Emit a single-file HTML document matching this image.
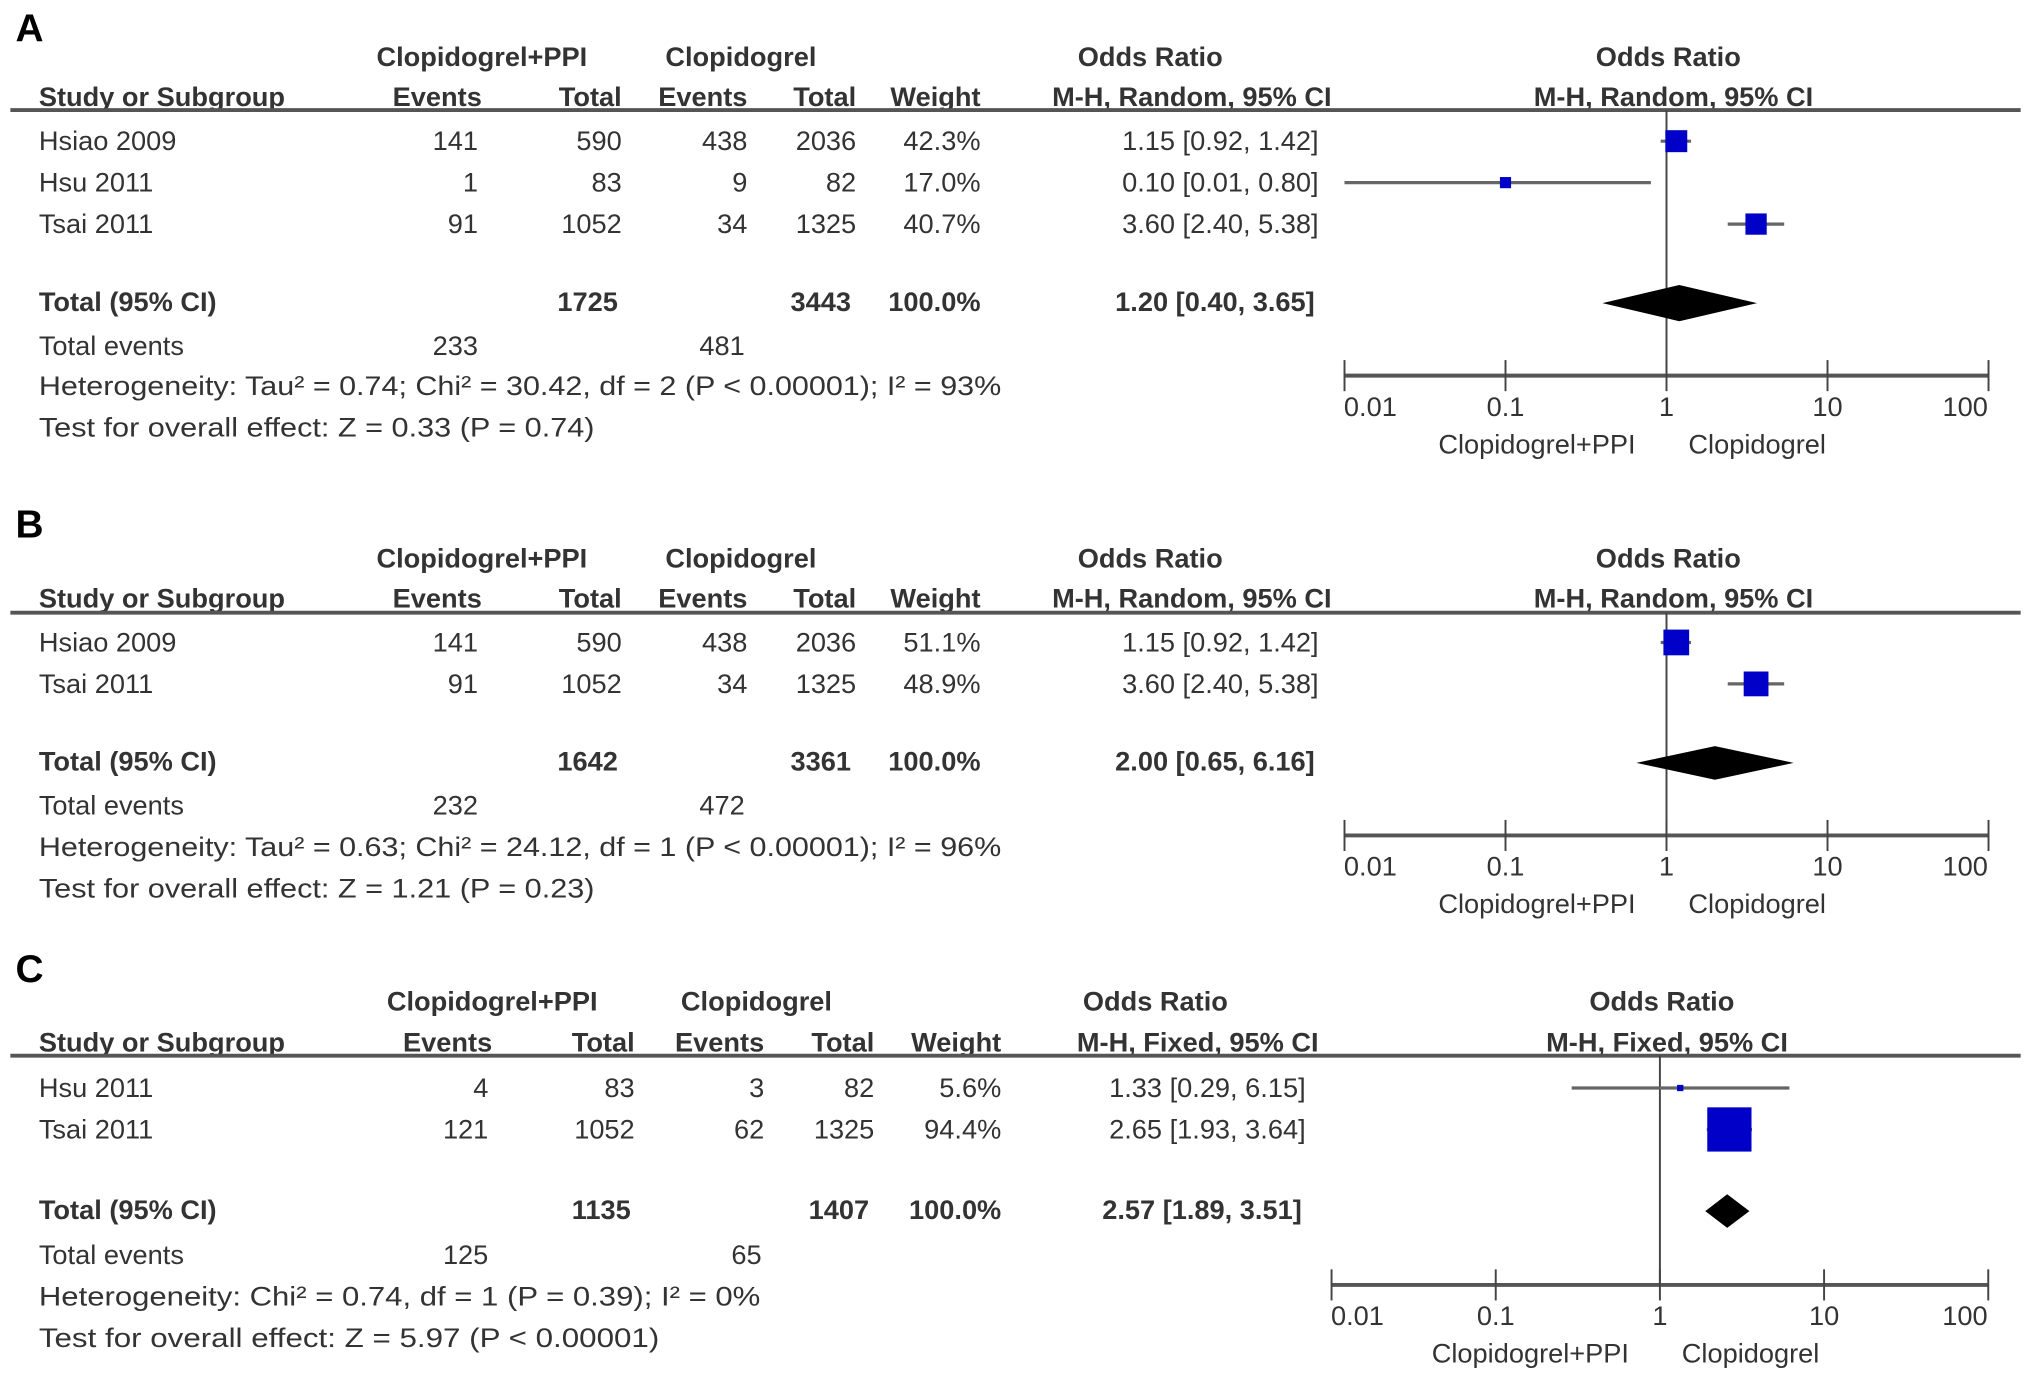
<!DOCTYPE html>
<html><head><meta charset="utf-8">
<style>
html,body{margin:0;padding:0;background:#fff;}
svg{display:block;}
text{font-family:"Liberation Sans",Arial,sans-serif;fill:#333;font-size:21px;}
.b{font-weight:bold;}
</style></head>
<body>
<svg id="fig" width="2031" height="1388" viewBox="0 0 1568 1071.6" preserveAspectRatio="none" xmlns="http://www.w3.org/2000/svg"></svg>
<script>
// ---- Panel A data ----
const aStudies = ["Hsiao 2009","Hsu 2011","Tsai 2011"];
const aExpEvents = ["141","1","91"];
const aExpTotal = ["590","83","1052"];
const aCtlEvents = ["438","9","34"];
const aCtlTotal = ["2036","82","1325"];
const aWeights = [42.3,17.0,40.7];
const aOR = [1.15,0.10,3.60];
const aLo = [0.92,0.01,2.40];
const aHi = [1.42,0.80,5.38];
const aTotal = {or:1.20,lo:0.40,hi:3.65};
// ---- Panel B data ----
const bStudies = ["Hsiao 2009","Tsai 2011"];
const bExpEvents = ["141","91"];
const bExpTotal = ["590","1052"];
const bCtlEvents = ["438","34"];
const bCtlTotal = ["2036","1325"];
const bWeights = [51.1,48.9];
const bOR = [1.15,3.60];
const bLo = [0.92,2.40];
const bHi = [1.42,5.38];
const bTotal = {or:2.00,lo:0.65,hi:6.16};
// ---- Panel C data ----
const cStudies = ["Hsu 2011","Tsai 2011"];
const cExpEvents = ["4","121"];
const cExpTotal = ["83","1052"];
const cCtlEvents = ["3","62"];
const cCtlTotal = ["82","1325"];
const cWeights = [5.6,94.4];
const cOR = [1.33,2.65];
const cLo = [0.29,1.93];
const cHi = [6.15,3.64];
const cTotal = {or:2.57,lo:1.89,hi:3.51};
const tickLabels = ["0.01","0.1","1","10","100"];
const tickValues = [0.01,0.1,1,10,100];

const NS="http://www.w3.org/2000/svg";
const svg=document.getElementById('fig');
function mk(tag,attrs,parent){const e=document.createElementNS(NS,tag);for(const k in attrs)e.setAttribute(k,attrs[k]);(parent||svg).appendChild(e);return e;}
function txt(s,x,y,anchor,cls,parent,tl){const e=mk('text',{x:x,y:y,'text-anchor':anchor||'start'},parent);if(cls)e.setAttribute('class',cls);if(tl){e.setAttribute('textLength',tl);e.setAttribute('lengthAdjust','spacingAndGlyphs');}e.textContent=s;return e;}
function fmt(v){return v.toFixed(2);}

function panel(p){
  const g=mk('g',{});
  
  
  const t=txt(p.letter,12,p.y0,'start','b',g);
  t.setAttribute('style','font-size:30px;fill:#000');
  const c=p.cols;
  // headers
  const h1=txt('Clopidogrel+PPI',c.grp1,p.h1,'middle','b',g);
  txt('Clopidogrel',c.grp2,p.h1,'middle','b',g);
  txt('Odds Ratio',c.orHead,p.h1,'middle','b',g);
  txt('Odds Ratio',c.plotHead,p.h1,'middle','b',g);
  const hdr=[['Study or Subgroup',30,'start'],['Events',c.e1,'end'],['Total',c.t1,'end'],['Events',c.e2,'end'],['Total',c.t2,'end'],['Weight',c.w,'end'],[p.method,c.ci,'end']];
  hdr.forEach(h=>txt(h[0],h[1],p.h2,h[2],'b',g));
  txt(p.method,c.plotHead+4,p.h2,'middle','b',g);
  const hl=mk('line',{x1:8,x2:1560,y1:p.hl,y2:p.hl,stroke:'#555','stroke-width':3},g);
  
  
  // axis function
  const x0=p.axX0, dec=p.dec;
  const X=v=>x0+(Math.log10(v)+2)*dec;
  // null line
  const nl=mk('line',{x1:X(1),x2:X(1),y1:p.hl,y2:p.axY,stroke:'#444','stroke-width':1.5},g);
  
  
  // rows
  p.studies.forEach((s,i)=>{
    const y=p.rows[i];
    const row=mk('g',{},g);
    
    
    txt(s,30,y,'start','',row);
    txt(p.ee[i],c.e1-3,y,'end','',row);
    txt(p.et[i],c.t1,y,'end','',row);
    txt(p.ce[i],c.e2,y,'end','',row);
    txt(p.ct[i],c.t2,y,'end','',row);
    txt(p.w[i].toFixed(1)+'%',c.w,y,'end','',row);
    txt(fmt(p.or[i])+' ['+fmt(p.lo[i])+', '+fmt(p.hi[i])+']',c.ci-10,y,'end','',row);
    const my=y-7;
    const ci=mk('line',{x1:X(p.lo[i]),x2:X(p.hi[i]),y1:my,y2:my,stroke:'#666','stroke-width':2.5},g);
    
    
    const sz=3+p.w[i]*0.33;
    const sq=mk('rect',{x:X(p.or[i])-sz/2,y:my-sz/2,width:sz,height:sz,fill:'#0000c8'},g);
    
    
  });
  // total
  const ty=p.totY;
  txt('Total (95% CI)',30,ty,'start','b',g);
  txt(p.sumT1,c.t1-3,ty,'end','b',g);
  txt(p.sumT2,c.t2-4,ty,'end','b',g);
  txt('100.0%',c.w,ty,'end','b',g);
  txt(fmt(p.tot.or)+' ['+fmt(p.tot.lo)+', '+fmt(p.tot.hi)+']',c.ci-13,ty,'end','b',g);
  const dy=ty-6, dh=p.dh;
  const d=mk('polygon',{points:[X(p.tot.lo)+','+dy, X(p.tot.or)+','+(dy-dh), X(p.tot.hi)+','+dy, X(p.tot.or)+','+(dy+dh)].join(' '),fill:'#000'},g);
  
  
  txt('Total events',30,p.evY,'start','',g);
  txt(p.ev1,c.e1-3,p.evY,'end','',g);
  txt(p.ev2,c.e2-2,p.evY,'end','',g);
  txt(p.het,30,p.hetY,'start','',g,p.hetW);
  txt(p.test,30,p.testY,'start','',g,p.testW);
  // axis
  const ax=mk('line',{x1:X(0.01),x2:X(100),y1:p.axY,y2:p.axY,stroke:'#555','stroke-width':3},g);
  
  
  tickValues.forEach((v,i)=>{
    const tk=mk('line',{x1:X(v),x2:X(v),y1:p.axY-12,y2:p.axY+12,stroke:'#444','stroke-width':1.5},g);
    
    
    const lb=txt(tickLabels[i],X(v)+(i===0?20:i===4?-18:0),p.axY+31,'middle','',g);
    
    
  });
  txt('Clopidogrel+PPI',X(1)-100,p.axY+60,'middle','',g);
  txt('Clopidogrel',X(1)+70,p.axY+60,'middle','',g);
}

panel({letter:'A',y0:32,h1:51,h2:82,hl:85,
  cols:{grp1:372,grp2:572,orHead:888,plotHead:1288,e1:372,t1:480,e2:577,t2:661,w:757,ci:1028},
  method:'M-H, Random, 95% CI',axX0:1038,dec:124.3,axY:290,
  studies:aStudies,ee:aExpEvents,et:aExpTotal,ce:aCtlEvents,ct:aCtlTotal,w:aWeights,or:aOR,lo:aLo,hi:aHi,tot:aTotal,
  rows:[116,148,180],totY:240,dh:14,sumT1:'1725',sumT2:'3443',evY:274,ev1:'233',ev2:'481',
  het:'Heterogeneity: Tau² = 0.74; Chi² = 30.42, df = 2 (P < 0.00001); I² = 93%',hetY:305,hetW:743,
  test:'Test for overall effect: Z = 0.33 (P = 0.74)',testY:337,testW:429});
panel({letter:'B',y0:415,h1:438,h2:469,hl:473,
  cols:{grp1:372,grp2:572,orHead:888,plotHead:1288,e1:372,t1:480,e2:577,t2:661,w:757,ci:1028},
  method:'M-H, Random, 95% CI',axX0:1038,dec:124.3,axY:645,
  studies:bStudies,ee:bExpEvents,et:bExpTotal,ce:bCtlEvents,ct:bCtlTotal,w:bWeights,or:bOR,lo:bLo,hi:bHi,tot:bTotal,
  rows:[503,535],totY:595,dh:13,sumT1:'1642',sumT2:'3361',evY:629,ev1:'232',ev2:'472',
  het:'Heterogeneity: Tau² = 0.63; Chi² = 24.12, df = 1 (P < 0.00001); I² = 96%',hetY:661,hetW:743,
  test:'Test for overall effect: Z = 1.21 (P = 0.23)',testY:693,testW:429});
panel({letter:'C',y0:758,h1:780,h2:812,hl:815,
  cols:{grp1:380,grp2:584,orHead:892,plotHead:1283,e1:380,t1:490,e2:590,t2:675,w:773,ci:1018},
  method:'M-H, Fixed, 95% CI',axX0:1028,dec:126.75,axY:992,
  studies:cStudies,ee:cExpEvents,et:cExpTotal,ce:cCtlEvents,ct:cCtlTotal,w:cWeights,or:cOR,lo:cLo,hi:cHi,tot:cTotal,
  rows:[847,879],totY:941,dh:13,sumT1:'1135',sumT2:'1407',evY:976,ev1:'125',ev2:'65',
  het:'Heterogeneity: Chi² = 0.74, df = 1 (P = 0.39); I² = 0%',hetY:1008,hetW:557,
  test:'Test for overall effect: Z = 5.97 (P < 0.00001)',testY:1040,testW:479});
</script>
</body></html>
